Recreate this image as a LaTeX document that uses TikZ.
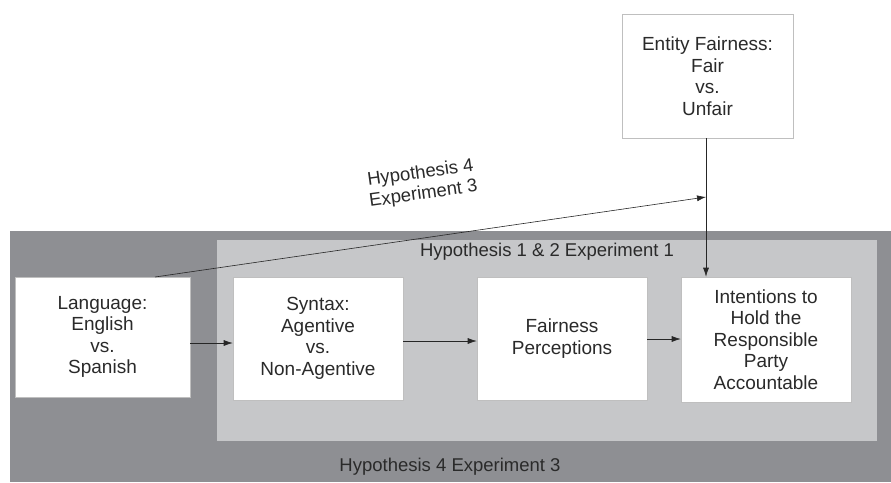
\documentclass[tikz,border=0pt]{standalone}
\usepackage{fontspec}
\setmainfont{Liberation Sans}
\usetikzlibrary{arrows.meta}
\definecolor{darkbg}{HTML}{8E8F93}
\definecolor{lightbg}{HTML}{C6C7C9}
\definecolor{txt}{HTML}{2A2A2A}
\begin{document}
\begin{tikzpicture}[x=1pt,y=-1pt,
  box/.style={draw=black!25,fill=white,line width=0.6pt,align=center,text=txt,
    font=\fontsize{19}{21.5}\selectfont,inner sep=0pt},
  conn/.style={draw=black!85,line width=0.6pt,-{Latex[length=9pt,width=6pt]}},
  lbl/.style={text=txt,font=\fontsize{18.5}{21}\selectfont,align=center}]
\useasboundingbox (0,0) rectangle (891,482);
\fill[darkbg] (10,231) rectangle (891,482);
\fill[lightbg] (217,240) rectangle (877,441);
\node[box,minimum width=175pt,minimum height=120pt] (lang) at (102.5,337) {Language:\\English\\vs.\\Spanish};
\node[box,minimum width=170pt,minimum height=123pt] (syn) at (318,338.5) {Syntax:\\Agentive\\vs.\\Non-Agentive};
\node[box,minimum width=170pt,minimum height=123pt] (fair) at (562,338.5) {Fairness\\Perceptions};
\node[box,minimum width=170pt,minimum height=125pt] (int) at (766,339.5) {Intentions to\\Hold the\\Responsible\\Party\\Accountable};
\node[box,minimum width=171pt,minimum height=124pt] (ent) at (707.5,76) {Entity Fairness:\\Fair\\vs.\\Unfair};
\coordinate (mid) at (706,197);
\coordinate (start) at (155,277);
\node[lbl] (h12) at (547,252) {Hypothesis 1 \& 2 Experiment 1};
\node[lbl] (h4b) at (450,467) {Hypothesis 4 Experiment 3};
\node[lbl,rotate=8] (h4a) at (422,184) {Hypothesis 4\\Experiment 3};
\draw[conn] (lang.east |- 0,343) -- (syn.west |- 0,343);
\draw[conn] (syn.east |- 0,341) -- (fair.west |- 0,341);
\draw[conn] (fair.east |- 0,339) -- (int.west |- 0,339);
\draw[conn] (ent.south -| mid) -- (int.north -| mid);
\draw[conn] (start) -- (mid);
\end{tikzpicture}
\end{document}
